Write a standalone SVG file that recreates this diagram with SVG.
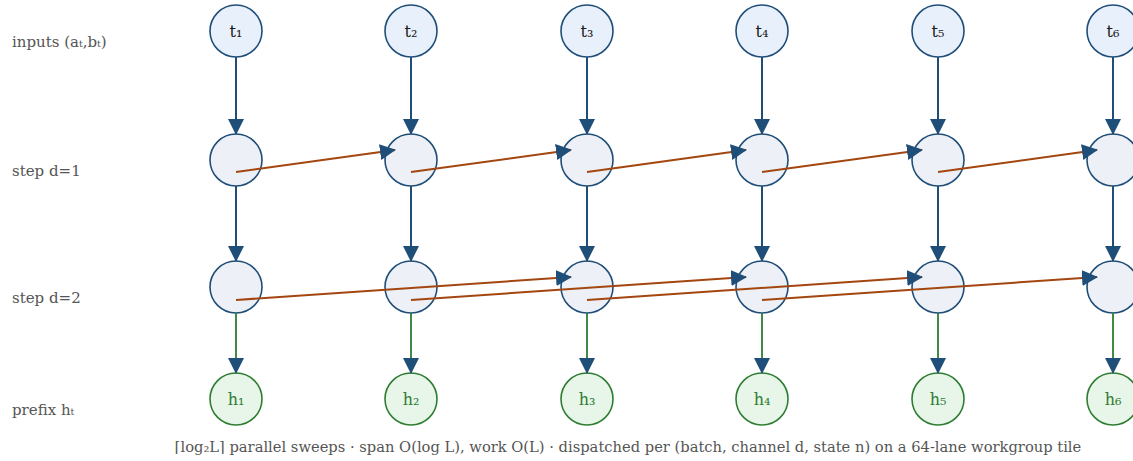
<svg xmlns="http://www.w3.org/2000/svg" width="1133" height="461" viewBox="0 0 1133 461">
<style>
  .lbl { font-family: "DejaVu Serif", "Liberation Serif", serif; font-size: 15px; fill: #555555; }
  .cap { font-family: "DejaVu Serif", "Liberation Serif", serif; font-size: 14.7px; fill: #555555; }
  .tn circle { fill: #e8f0fb; stroke: #1f4e79; stroke-width: 1.6; }
  .sn circle { fill: #edf1f7; stroke: #1f4e79; stroke-width: 1.6; }
  .hn circle { fill: #e8f5e9; stroke: #2e7d32; stroke-width: 1.6; }
  .tn text { font-family: "DejaVu Serif", "Liberation Serif", serif; font-size: 16px; fill: #1a1a1a; text-anchor: middle; }
  .hn text { font-family: "DejaVu Serif", "Liberation Serif", serif; font-size: 16px; fill: #2e7d32; text-anchor: middle; }
  .v { stroke: #1f4e79; stroke-width: 2; fill: none; marker-end: url(#ah); }
  .g { stroke: #2e7d32; stroke-width: 1.8; fill: none; marker-end: url(#ah); }
  .o { stroke: #a3460f; stroke-width: 2; fill: none; marker-end: url(#ah); }
</style>
<defs>
  <marker id="ah" markerUnits="userSpaceOnUse" markerWidth="16" markerHeight="16" refX="15" refY="8" orient="auto" viewBox="0 0 16 16">
    <path d="M0,0 L16,8 L0,16 z" fill="#1f4e79"/>
  </marker>
</defs>
<rect width="1133" height="461" fill="#ffffff"/>

<g id="row-labels">
  <text class="lbl" x="12" y="47">inputs (aₜ,bₜ)</text>
  <text class="lbl" x="12" y="176">step d=1</text>
  <text class="lbl" x="12" y="303">step d=2</text>
  <text class="lbl" x="12" y="415">prefix hₜ</text>
</g>

<g id="t1" class="tn"><circle cx="236" cy="31" r="26"/><text x="236" y="37">t₁</text></g>
<g id="t2" class="tn"><circle cx="411" cy="31" r="26"/><text x="411" y="37">t₂</text></g>
<g id="t3" class="tn"><circle cx="587" cy="31" r="26"/><text x="587" y="37">t₃</text></g>
<g id="t4" class="tn"><circle cx="762" cy="31" r="26"/><text x="762" y="37">t₄</text></g>
<g id="t5" class="tn"><circle cx="938" cy="31" r="26"/><text x="938" y="37">t₅</text></g>
<g id="t6" class="tn"><circle cx="1113" cy="31" r="26"/><text x="1113" y="37">t₆</text></g>

<g id="s1_1" class="sn"><circle cx="236" cy="160" r="26"/></g>
<g id="s1_2" class="sn"><circle cx="411" cy="160" r="26"/></g>
<g id="s1_3" class="sn"><circle cx="587" cy="160" r="26"/></g>
<g id="s1_4" class="sn"><circle cx="762" cy="160" r="26"/></g>
<g id="s1_5" class="sn"><circle cx="938" cy="160" r="26"/></g>
<g id="s1_6" class="sn"><circle cx="1113" cy="160" r="26"/></g>

<g id="s2_1" class="sn"><circle cx="236" cy="287" r="26"/></g>
<g id="s2_2" class="sn"><circle cx="411" cy="287" r="26"/></g>
<g id="s2_3" class="sn"><circle cx="587" cy="287" r="26"/></g>
<g id="s2_4" class="sn"><circle cx="762" cy="287" r="26"/></g>
<g id="s2_5" class="sn"><circle cx="938" cy="287" r="26"/></g>
<g id="s2_6" class="sn"><circle cx="1113" cy="287" r="26"/></g>

<g id="h1" class="hn"><circle cx="236" cy="399" r="26"/><text x="236" y="405">h₁</text></g>
<g id="h2" class="hn"><circle cx="411" cy="399" r="26"/><text x="411" y="405">h₂</text></g>
<g id="h3" class="hn"><circle cx="587" cy="399" r="26"/><text x="587" y="405">h₃</text></g>
<g id="h4" class="hn"><circle cx="762" cy="399" r="26"/><text x="762" y="405">h₄</text></g>
<g id="h5" class="hn"><circle cx="938" cy="399" r="26"/><text x="938" y="405">h₅</text></g>
<g id="h6" class="hn"><circle cx="1113" cy="399" r="26"/><text x="1113" y="405">h₆</text></g>

<g id="connectors">
  <line class="v" x1="236" y1="57" x2="236" y2="134"/>
  <line class="v" x1="411" y1="57" x2="411" y2="134"/>
  <line class="v" x1="587" y1="57" x2="587" y2="134"/>
  <line class="v" x1="762" y1="57" x2="762" y2="134"/>
  <line class="v" x1="938" y1="57" x2="938" y2="134"/>
  <line class="v" x1="1113" y1="57" x2="1113" y2="134"/>

  <line class="v" x1="236" y1="186" x2="236" y2="261"/>
  <line class="v" x1="411" y1="186" x2="411" y2="261"/>
  <line class="v" x1="587" y1="186" x2="587" y2="261"/>
  <line class="v" x1="762" y1="186" x2="762" y2="261"/>
  <line class="v" x1="938" y1="186" x2="938" y2="261"/>
  <line class="v" x1="1113" y1="186" x2="1113" y2="261"/>

  <line class="g" x1="236" y1="313" x2="236" y2="373"/>
  <line class="g" x1="411" y1="313" x2="411" y2="373"/>
  <line class="g" x1="587" y1="313" x2="587" y2="373"/>
  <line class="g" x1="762" y1="313" x2="762" y2="373"/>
  <line class="g" x1="938" y1="313" x2="938" y2="373"/>
  <line class="g" x1="1113" y1="313" x2="1113" y2="373"/>

  <line class="o" x1="236" y1="172" x2="395" y2="150"/>
  <line class="o" x1="411" y1="172" x2="571" y2="150"/>
  <line class="o" x1="587" y1="172" x2="746" y2="150"/>
  <line class="o" x1="762" y1="172" x2="922" y2="150"/>
  <line class="o" x1="938" y1="172" x2="1097" y2="150"/>

  <line class="o" x1="236" y1="300" x2="571" y2="277"/>
  <line class="o" x1="411" y1="300" x2="746" y2="277"/>
  <line class="o" x1="587" y1="300" x2="922" y2="277"/>
  <line class="o" x1="762" y1="300" x2="1097" y2="277"/>
</g>

<text class="cap" x="628" y="452" text-anchor="middle">⌈log₂L⌉ parallel sweeps · span O(log L), work O(L) · dispatched per (batch, channel d, state n) on a 64-lane workgroup tile</text>
</svg>
